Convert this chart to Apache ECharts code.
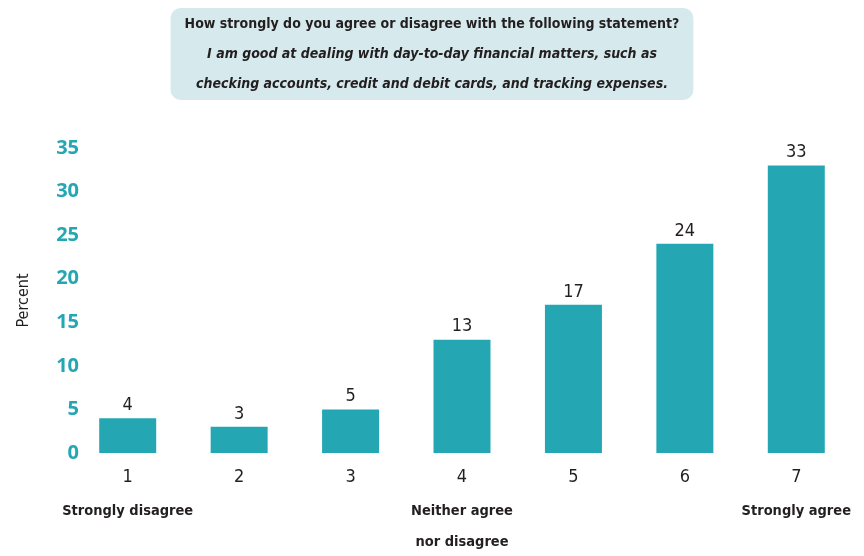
<!DOCTYPE html>
<html lang="en">
<head>
    <meta charset="UTF-8">
    <title>Financial matters chart</title>
    <style type="text/css">
        body{
            margin: 0px;
            padding: 0px;
            background: #fff;
        }
        #chart{
            width: 864px;
            height: 556px;
        }
    </style>
</head>
<body>
    <div id="chart"></div>
</body>
<script src="https://cdn.jsdelivr.net/npm/echarts@6/dist/echarts.min.js" type="text/javascript"></script>
<script type="text/javascript">
    // data
    var categories = ['1', '2', '3', '4', '5', '6', '7'];
    var notes = ['Strongly disagree', '', '', 'Neither agree\nnor disagree', '', '', 'Strongly agree'];
    var percents = [4, 3, 5, 13, 17, 24, 33];
    var yTicks = [0, 5, 10, 15, 20, 25, 30, 35];

    var narrow = "'Liberation Sans Narrow', 'DejaVu Sans Condensed', sans-serif";
    var teal = '#24a7b3';

    var myChart = echarts.init(document.getElementById('chart'));
    myChart.setOption({
        animation: false,
        title: {
            left: 'center',
            top: 0,
            text: '{a|How strongly do you agree or disagree with the following statement?}\n' +
                  '{b|I am good at dealing with day-to-day financial matters, such as}\n' +
                  '{b|checking accounts, credit and debit cards, and tracking expenses.}',
            backgroundColor: '#d6e9ec',
            borderRadius: 10,
            padding: [9, 14, 9, 14],
            textStyle: {
                rich: {
                    a: {fontFamily: narrow, fontSize: 14, color: '#231f20', lineHeight: 30, align: 'center'},
                    b: {fontFamily: narrow, fontSize: 14, fontStyle: 'italic', color: '#231f20', lineHeight: 30, align: 'center'}
                }
            }
        },
        grid: {left: 72, right: 12, top: 148, bottom: 103},
        xAxis: {
            type: 'category',
            data: categories,
            axisLine: {show: false},
            axisTick: {show: false},
            axisLabel: {
                margin: 5,
                interval: 0,
                formatter: function (v, i) {
                    var s = '{n|' + v + '}';
                    if (notes[i]) {
                        s += '\n' + notes[i].split('\n').map(function (t) { return '{d|' + t + '}'; }).join('\n');
                    }
                    return s;
                },
                rich: {
                    n: {fontFamily: narrow, fontSize: 18, color: '#231f20', lineHeight: 38},
                    d: {fontFamily: narrow, fontSize: 14.5, fontWeight: 'bold', color: '#231f20', lineHeight: 31}
                }
            }
        },
        yAxis: {
            type: 'value',
            min: yTicks[0],
            max: yTicks[yTicks.length - 1],
            interval: 5,
            name: 'Percent',
            nameLocation: 'middle',
            nameGap: 40,
            nameTextStyle: {fontFamily: narrow, fontSize: 16, color: '#231f20'},
            axisLine: {show: false},
            axisTick: {show: false},
            splitLine: {show: false},
            axisLabel: {
                margin: -7,
                fontFamily: "'Open Sans', sans-serif",
                fontWeight: 'bold',
                fontSize: 20,
                color: teal
            }
        },
        series: [{
            type: 'bar',
            data: percents,
            barWidth: 57,
            itemStyle: {color: teal},
            label: {
                show: true,
                position: 'top',
                distance: 4,
                fontFamily: narrow,
                fontSize: 18,
                color: '#231f20'
            }
        }]
    });
</script>
</html>
